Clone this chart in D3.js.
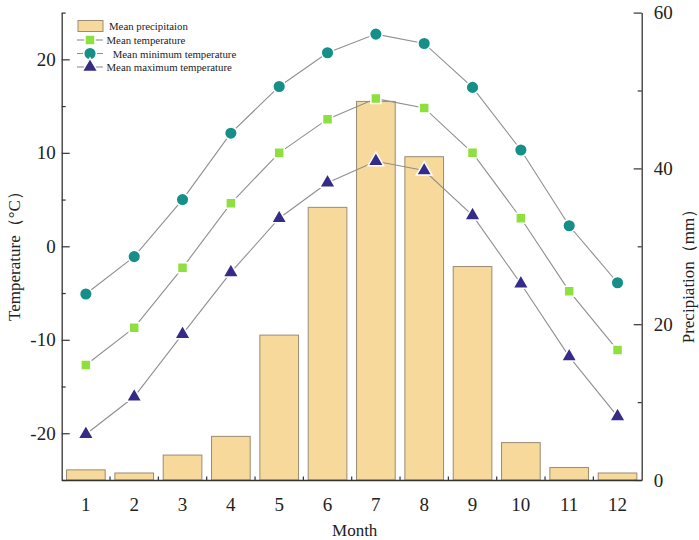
<!DOCTYPE html>
<html>
<head>
<meta charset="utf-8">
<script src="https://cdn.jsdelivr.net/npm/d3@7"></script>
<style>
  html, body { margin: 0; padding: 0; background: #fff; }
  svg { display: block; }
  text { font-family: "Liberation Serif", "Times New Roman", serif; fill: #222; }
</style>
</head>
<body>
<svg id="chart" width="699" height="540"></svg>
<script>
// ---- data ----
const months = [1, 2, 3, 4, 5, 6, 7, 8, 9, 10, 11, 12];
const precipitation = [1.3, 0.9, 3.2, 5.6, 18.6, 35.0, 48.6, 41.5, 27.4, 4.8, 1.6, 0.9];
const meanTemp = [-12.7, -8.7, -2.3, 4.6, 10.0, 13.6, 15.8, 14.8, 10.0, 3.0, -4.8, -11.1];
const meanMinTemp = [-5.1, -1.1, 5.0, 12.1, 17.1, 20.7, 22.7, 21.7, 17.0, 10.3, 2.2, -3.9];
const meanMaxTemp = [-20.1, -16.1, -9.4, -2.8, 3.0, 6.8, 9.1, 8.1, 3.3, -4.0, -11.8, -18.2];
const tempTicks = [-20, -10, 0, 10, 20];
const tempMinorTicks = [-25, -15, -5, 5, 15, 25];
const precTicks = [0, 20, 40, 60];
const precMinorTicks = [10, 30, 50];
const legendLabels = ["Mean precipitaion", "Mean temperature", " Mean minimum temperature", "Mean maximum temperature"];

// ---- layout ----
const L = 61.7, R = 641.7, T = 12.6, B = 480;
const svg = d3.select("#chart");

const x = d3.scaleBand().domain(months).range([L, R]).paddingInner(0.2).paddingOuter(0.1);
const yT = d3.scaleLinear().domain([-25, 25]).range([B, T]);
const yP = d3.scaleLinear().domain([0, 60]).range([B, T]);
const cx = m => x(m) + x.bandwidth() / 2;

const colors = {
  barFill: "#f7d99b", barStroke: "#9a8b72",
  green: "#8de03d", teal: "#168f89", navy: "#352c87",
  line: "#8f8f8f", axis: "#333"
};

// bars
svg.append("g").selectAll("rect").data(months).join("rect")
  .attr("x", m => x(m)).attr("width", x.bandwidth())
  .attr("y", (m, i) => yP(precipitation[i]))
  .attr("height", (m, i) => B - yP(precipitation[i]))
  .attr("fill", colors.barFill).attr("stroke", colors.barStroke).attr("stroke-width", 1);

// lines
const line = d3.line().x((d, i) => cx(months[i])).y(d => yT(d));
[meanMinTemp, meanTemp, meanMaxTemp].forEach(s => {
  svg.append("path").datum(s).attr("d", line)
    .attr("fill", "none").attr("stroke", colors.line).attr("stroke-width", 1.1);
});

// markers
const sym = {
  square: d3.symbol().type(d3.symbolSquare).size(100),
  circle: d3.symbol().type(d3.symbolCircle).size(125),
  triangle: d3.symbol().type(d3.symbolTriangle).size(105)
};
function markers(series, path, color) {
  svg.append("g").selectAll("path").data(series).join("path")
    .attr("d", path)
    .attr("transform", (d, i) => `translate(${cx(months[i])},${yT(d)})`)
    .attr("fill", color).attr("stroke", "#fff").attr("stroke-width", 1.5);
}
markers(meanMinTemp, sym.circle(), colors.teal);
markers(meanTemp, sym.square(), colors.green);
markers(meanMaxTemp, sym.triangle(), colors.navy);

// axes
const axisFont = 19;
const fmt = d => String(d);
const leftAx = svg.append("g").attr("transform", `translate(${L},0)`)
  .call(d3.axisLeft(yT).tickValues(tempTicks).tickSize(-8).tickSizeOuter(0).tickPadding(6).tickFormat(fmt));
svg.append("g").attr("transform", `translate(${L},0)`)
  .call(d3.axisLeft(yT).tickValues(tempMinorTicks).tickSize(-4).tickSizeOuter(0).tickFormat(""))
  .call(g => g.select(".domain").remove());
const rightAx = svg.append("g").attr("transform", `translate(${R},0)`)
  .call(d3.axisRight(yP).tickValues(precTicks).tickSize(-8).tickSizeOuter(0).tickPadding(12).tickFormat(fmt));
svg.append("g").attr("transform", `translate(${R},0)`)
  .call(d3.axisRight(yP).tickValues(precMinorTicks).tickSize(-4).tickSizeOuter(0).tickFormat(""))
  .call(g => g.select(".domain").remove());
const bottomAx = svg.append("g").attr("transform", `translate(0,${B})`)
  .call(d3.axisBottom(x).tickSize(0).tickSizeOuter(0).tickPadding(18).tickFormat(fmt));
// minor ticks at band boundaries
const bounds = months.slice(1).map(m => x(m) - x.step() * x.paddingInner() / 2);
svg.append("g").selectAll("line").data(bounds).join("line")
  .attr("x1", d => d).attr("x2", d => d).attr("y1", B).attr("y2", B - 3.5)
  .attr("stroke", colors.axis).attr("stroke-width", 1.2);

[leftAx, rightAx, bottomAx].forEach(g => {
  g.selectAll(".domain").attr("stroke", colors.axis).attr("stroke-width", 1.3);
  g.selectAll("text").attr("font-family", "Liberation Serif, serif").attr("font-size", axisFont).attr("fill", "#222");
});
svg.selectAll(".tick line").attr("stroke", colors.axis).attr("stroke-width", 1.2);

// axis titles
svg.append("text").attr("transform", `translate(14,252) rotate(-90)`)
  .attr("text-anchor", "middle").attr("dominant-baseline", "central")
  .attr("font-size", 17).text("Temperature（°C）");
svg.append("text").attr("transform", `translate(688,272) rotate(-90)`)
  .attr("text-anchor", "middle").attr("dominant-baseline", "central")
  .attr("font-size", 17).text("Precipiation（mm）");
svg.append("text").attr("x", (L + R) / 2 + 3).attr("y", 530)
  .attr("text-anchor", "middle").attr("dominant-baseline", "central")
  .attr("font-size", 17).text("Month");

// legend
const lg = svg.append("g");
const rowY = [26, 40, 53.5, 67];
lg.append("rect").attr("x", 78).attr("y", rowY[0] - 5.5).attr("width", 25).attr("height", 11)
  .attr("fill", colors.barFill).attr("stroke", colors.barStroke);
const legSyms = [null, [sym.square, colors.green], [sym.circle, colors.teal], [sym.triangle, colors.navy]];
[1, 2, 3].forEach(i => {
  lg.append("line").attr("x1", 77).attr("x2", 103).attr("y1", rowY[i]).attr("y2", rowY[i])
    .attr("stroke", colors.line).attr("stroke-width", 1.1);
  lg.append("path").attr("d", legSyms[i][0]())
    .attr("transform", `translate(90,${rowY[i]})`)
    .attr("fill", legSyms[i][1]).attr("stroke", "#fff").attr("stroke-width", 1.5);
});
const textX = [109, 106.5, 110, 106.5];
legendLabels.forEach((t, i) => {
  lg.append("text").attr("x", textX[i]).attr("y", rowY[i])
    .attr("dominant-baseline", "central").attr("font-size", 10.8)
    .attr("xml:space", "preserve").style("white-space", "pre").text(t);
});
</script>
</body>
</html>
